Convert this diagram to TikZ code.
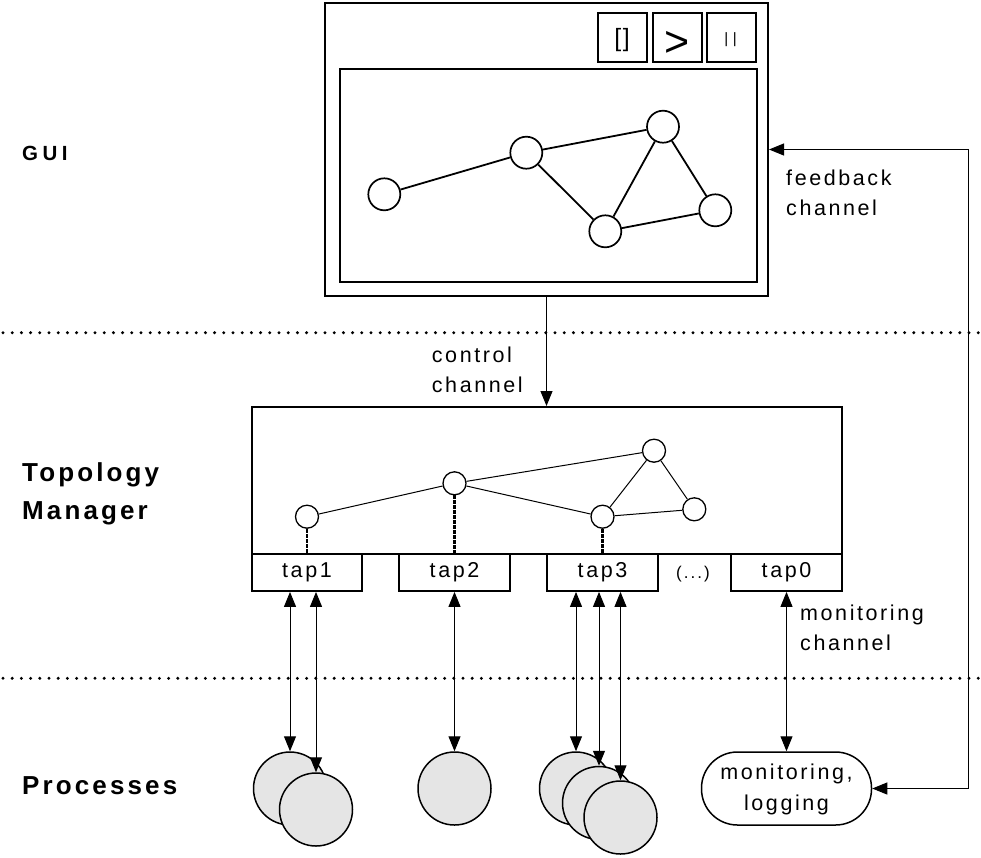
\documentclass[tikz,border=0pt]{standalone}
\usepackage{fontspec}
\setmainfont{Liberation Sans}
\newfontfamily\labelfont[LetterSpace=12]{Liberation Sans}
\newfontfamily\layerfont[LetterSpace=12]{Liberation Sans}
\newfontfamily\guifont[LetterSpace=22]{Liberation Sans}
\usetikzlibrary{arrows.meta}
\definecolor{procgray}{gray}{0.9}

\tikzset{
  panel/.style={draw, rectangle, inner sep=0pt, line width=2pt},
  button/.style={draw, rectangle, inner sep=0pt, line width=1.8pt,
    minimum width=49pt, minimum height=49pt},
  glyph/.style={inner sep=0pt},
  bigvertex/.style={draw, circle, inner sep=0pt, minimum size=32pt,
    line width=1.7pt, fill=white},
  smallvertex/.style={draw, circle, inner sep=0pt, minimum size=23pt,
    line width=1.3pt, fill=white},
  bigedge/.style={line width=1.8pt},
  smalledge/.style={line width=1pt},
  tapbox/.style={draw, rectangle, inner sep=0pt, line width=1.8pt, fill=white,
    minimum width=110.5pt, minimum height=37pt,
    font=\labelfont\fontsize{21.5}{30}\selectfont},
  tapline/.style={line width=2.4pt, dash pattern=on 4pt off 1pt},
  process/.style={draw, circle, inner sep=0pt, minimum size=73pt,
    line width=1.5pt, fill=procgray},
  channel/.style={line width=1pt, {Triangle[length=15pt, width=12pt]}-{Triangle[length=15pt, width=12pt]}},
  oneway/.style={line width=1pt, -{Triangle[length=15pt, width=12pt]}},
  separator/.style={line width=3.3pt, line cap=round, dash pattern=on 0pt off 9.2pt},
  layer/.style={anchor=base west, inner sep=0pt,
    font=\layerfont\bfseries\fontsize{26}{37.3}\selectfont},
  note/.style={anchor=base west, inner sep=0pt,
    font=\labelfont\fontsize{21.5}{30}\selectfont},
}

\begin{document}
\begin{tikzpicture}[x=1pt, y=-1pt]
\useasboundingbox (0,0) rectangle (981,857);

% ---------- layer separators ----------
\coordinate (sepAL) at (3,332.7);
\coordinate (sepAR) at (981,332.7);
\coordinate (sepBL) at (3,678.3);
\coordinate (sepBR) at (981,678.3);
\draw[separator] (sepAL) -- (sepAR);
\draw[separator] (sepBL) -- (sepBR);

% ---------- layer names ----------
\node[anchor=base west, inner sep=0pt,
      font=\guifont\bfseries\fontsize{20.5}{24}\selectfont] (lgui) at (22,160.7) {GUI};
\node[layer] (ltm) at (22,481.7)
  {\begin{tabular}[t]{@{}l@{}}Topology\\Manager\end{tabular}};
\node[layer] (lproc) at (22,794.3) {Processes};

% ---------- GUI window ----------
\node[panel, minimum width=443pt, minimum height=293pt] (gui) at (546.5,149.5) {};
\node[panel, minimum width=417pt, minimum height=213pt] (canvas) at (548.5,175.5) {};

\node[button] (bstop)  at (622.5,37.5) {};
\node[button] (bplay)  at (677.5,37.5) {};
\node[button] (bpause) at (731.5,37.5) {};
\node[glyph, font=\fontsize{25}{25}\selectfont] (gstop) at (622,40) {[\hspace{1.5pt}]};
\node[glyph, font=\fontsize{43}{43}\selectfont] (gplay) at (677.5,44) {>};
\node[glyph, font=\fontsize{15}{15}\selectfont] (gpause) at (730.5,39.2) {|\hspace{4.5pt}|};

% graph shown in the GUI
\node[bigvertex] (ga) at (384.3,194.3) {};
\node[bigvertex] (gb) at (526.3,152.7) {};
\node[bigvertex] (gc) at (663,126.7) {};
\node[bigvertex] (gd) at (605.3,231.3) {};
\node[bigvertex] (ge) at (715.3,210.3) {};
\draw[bigedge] (ga) -- (gb);
\draw[bigedge] (gb) -- (gc);
\draw[bigedge] (gb) -- (gd);
\draw[bigedge] (gc) -- (gd);
\draw[bigedge] (gc) -- (ge);
\draw[bigedge] (gd) -- (ge);

% ---------- topology manager ----------
\node[panel, minimum width=590pt, minimum height=147pt] (tm) at (547,480.5) {};

\node[smallvertex] (na) at (307,516.7) {};
\node[smallvertex] (nb) at (454.5,483.3) {};
\node[smallvertex] (nc) at (654,450.7) {};
\node[smallvertex] (nd) at (602.5,516.7) {};
\node[smallvertex] (ne) at (694.3,509.3) {};
\draw[smalledge] (na) -- (nb);
\draw[smalledge] (nb) -- (nc);
\draw[smalledge] (nb) -- (nd);
\draw[smalledge] (nc) -- (nd);
\draw[smalledge] (nc) -- (ne);
\draw[smalledge] (nd) -- (ne);

\node[tapbox] (tap1) at (307,572.5) {tap1};
\node[tapbox] (tap2) at (454.5,572.5) {tap2};
\node[tapbox] (tap3) at (602.5,572.5) {tap3};
\node[tapbox] (tap0) at (786.5,572.5) {tap0};
\node[glyph, font=\labelfont\fontsize{17}{17}\selectfont] (more) at (693,574) {(...)};

\draw[tapline] (na.south) -- (na.south |- tap1.north);
\draw[tapline] (nb.south) -- (nb.south |- tap2.north);
\draw[tapline] (nd.south) -- (nd.south |- tap3.north);

% ---------- processes ----------
\node[process] (p1a) at (290,788.5) {};
\node[process] (p1b) at (316,809.5) {};
\node[process] (p2)  at (454.5,788.5) {};
\node[process] (p3a) at (576,788.5) {};
\node[process] (p3b) at (599,803) {};
\node[process] (p3c) at (620.5,817.5) {};

\node[draw, rectangle, rounded corners=36pt, inner sep=0pt, line width=1.5pt,
      minimum width=170pt, minimum height=73pt,
      font=\labelfont\fontsize{21.5}{31}\selectfont] (mon) at (786.5,788.5)
  {\begin{tabular}{@{}c@{}}monitoring,\\logging\end{tabular}};

% ---------- channels ----------
\draw[channel] (p1a.north |- tap1.south) -- (p1a.north);
\draw[channel] (p1b.north |- tap1.south) -- (p1b.north);
\draw[channel] (p2.north |- tap2.south) -- (p2.north);
\draw[channel] (p3a.north |- tap3.south) -- (p3a.north);
\draw[channel] (p3b.north |- tap3.south) -- (p3b.north);
\draw[channel] (p3c.north |- tap3.south) -- (p3c.north);
\draw[channel] (tap0.south) -- (mon.north);

\draw[oneway] (gui.south) -- (gui.south |- tm.north);

\coordinate (fbcorner) at (968.3,149.5);
\draw[channel] (gui.east) -- (fbcorner) |- (mon.east);

% ---------- channel names ----------
\node[note] (tfeed) at (786,185.7)
  {\begin{tabular}[t]{@{}l@{}}feedback\\channel\end{tabular}};
\node[note] (tctrl) at (431.7,362.7)
  {\begin{tabular}[t]{@{}l@{}}control\\channel\end{tabular}};
\node[note] (tmon) at (800,620.7)
  {\begin{tabular}[t]{@{}l@{}}monitoring\\channel\end{tabular}};
\end{tikzpicture}
\end{document}
